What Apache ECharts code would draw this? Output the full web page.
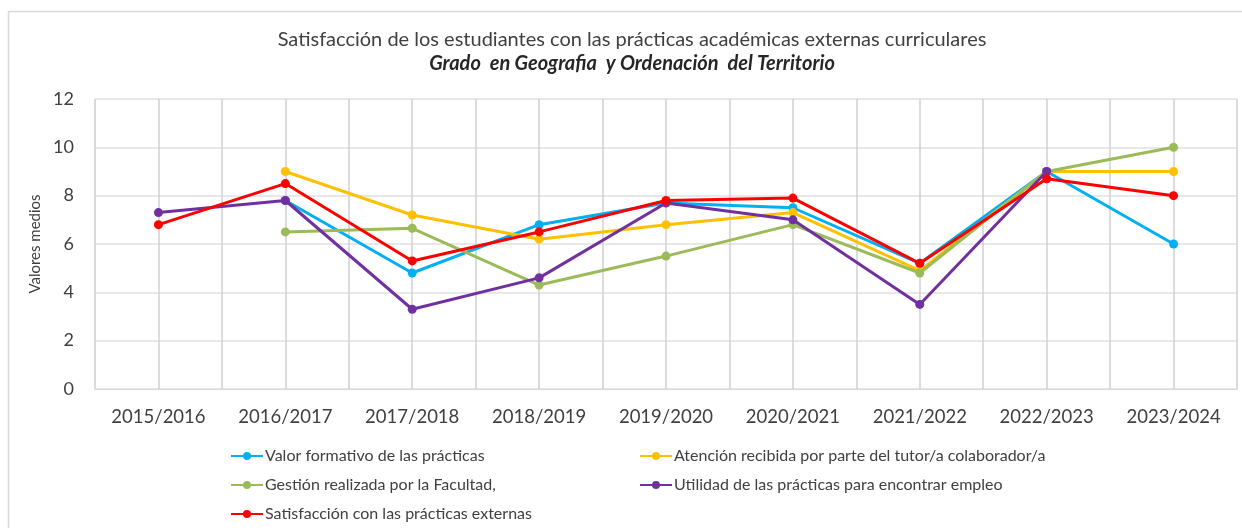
<!DOCTYPE html>
<html>
<head>
<meta charset="utf-8">
<script src="https://cdn.jsdelivr.net/npm/echarts@6/dist/echarts.min.js"></script>
<style>
  html, body { margin: 0; padding: 0; background: #fff; }
  #chart { width: 1242px; height: 528px; }
</style>
</head>
<body>
<div id="chart"></div>
<script>
// cursos academicos
var years = ['2015/2016', '2016/2017', '2017/2018', '2018/2019', '2019/2020', '2020/2021', '2021/2022', '2022/2023', '2023/2024'];

// valores medios
var valorFormativo = [null, 7.8, 4.8, 6.8, 7.7, 7.5, 5.2, 9.0, 6.0];
var atencionTutor = [null, 9.0, 7.2, 6.2, 6.8, 7.3, 4.9, 9.0, 9.0];
var gestionFacultad = [null, 6.5, 6.65, 4.3, 5.5, 6.8, 4.8, 9.0, 10.0];
var utilidadEmpleo = [7.3, 7.8, 3.3, 4.6, 7.7, 7.0, 3.5, 9.0, null];
var satisfaccion = [6.8, 8.5, 5.3, 6.5, 7.8, 7.9, 5.2, 8.7, 8.0];

var names = [
    'Valor formativo de las prácticas',
    'Atención recibida por parte del tutor/a colaborador/a',
    'Gestión realizada por la Facultad,',
    'Utilidad de las prácticas para encontrar empleo',
    'Satisfacción con las prácticas externas'
];
var colors = ['#00B0F0', '#FFC000', '#9BBB59', '#7030A0', '#FF0000'];
var allData = [valorFormativo, atencionTutor, gestionFacultad, utilidadEmpleo, satisfaccion];

var font = 'Lato';
var chart = echarts.init(document.getElementById('chart'));

var series = [];
for (var i = 0; i < names.length; i++) {
    series.push({
        name: names[i],
        type: 'line',
        data: allData[i],
        symbol: 'circle',
        symbolSize: 9,
        connectNulls: false,
        lineStyle: { width: 3, color: colors[i] },
        itemStyle: { color: colors[i] },
        z: 3 + i
    });
}

// legend spots (one component per item)
var legendPos = [[230, 448], [639, 448], [230, 477], [639, 477], [230, 506]];
var legends = [];
for (var j = 0; j < names.length; j++) {
    legends.push({
        data: [names[j]],
        left: legendPos[j][0],
        top: legendPos[j][1],
        itemWidth: 32,
        itemHeight: 10,
        itemGap: 2,
        padding: 0,
        selectedMode: false,
        textStyle: { fontFamily: font, fontSize: 16, color: '#404040', padding: [0, 0, 0, -3] }
    });
}

var option = {
    animation: false,
    title: {
        text: 'Satisfacción de los estudiantes con las prácticas académicas externas curriculares',
        subtext: 'Grado  en Geografia  y Ordenación  del Territorio',
        left: 632,
        top: 30,
        textAlign: 'center',
        itemGap: 4,
        padding: 0,
        textStyle: { fontFamily: font, fontSize: 20, fontWeight: 'normal', color: '#404040' },
        subtextStyle: { fontFamily: font, fontSize: 20, fontWeight: 'bold', fontStyle: 'italic', color: '#262626' }
    },
    legend: legends,
    graphic: [{
        type: 'rect',
        shape: { x: 8.5, y: 11.5, width: 1300, height: 600 },
        style: { fill: 'none', stroke: '#d9d9d9', lineWidth: 1.5 },
        silent: true
    }],
    grid: { left: 95, right: 5, top: 99, bottom: 139 },
    xAxis: [{
        type: 'category',
        data: years,
        boundaryGap: true,
        axisLine: { lineStyle: { color: '#d9d9d9', width: 1 } },
        axisTick: { show: false },
        splitLine: { show: false },
        axisLabel: { fontFamily: font, fontSize: 18.5, color: '#404040', margin: 19, interval: 0 }
    }, {
        // half-category gridlines
        type: 'value',
        min: 0,
        max: 18,
        interval: 1,
        position: 'bottom',
        axisLine: { show: false },
        axisTick: { show: false },
        axisLabel: { show: false },
        splitLine: { show: true, lineStyle: { color: '#d0d0d0', width: 1.5 } }
    }],
    yAxis: {
        type: 'value',
        min: 0,
        max: 12,
        interval: 2,
        name: 'Valores medios',
        nameLocation: 'middle',
        nameGap: 50,
        nameTextStyle: { fontFamily: font, fontSize: 15, color: '#404040' },
        axisLine: { show: true, lineStyle: { color: '#d9d9d9' } },
        axisTick: { show: false },
        axisLabel: { fontFamily: font, fontSize: 18, color: '#404040', margin: 21 },
        splitLine: { lineStyle: { color: '#e0e0e0', width: 1.5 } }
    },
    series: series
};

chart.setOption(option);
</script>
</body>
</html>
